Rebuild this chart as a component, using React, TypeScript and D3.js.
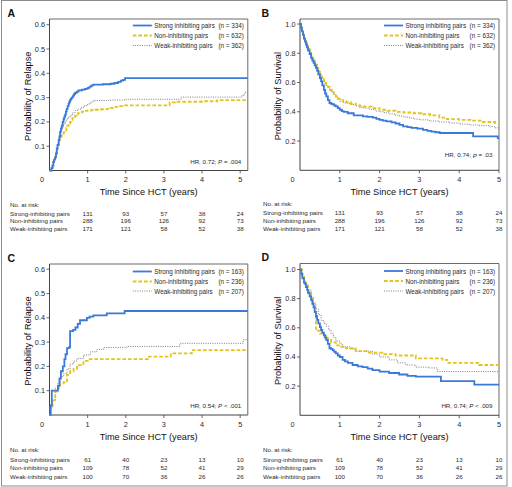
import React from "react";
import * as d3 from "d3";

// ---------- data ----------
const seriesNames = ["Strong inhibiting pairs", "Non-inhibiting pairs", "Weak-inhibiting pairs"];
const riskNames = ["Strong-inhibiting pairs", "Non-inhibiting pairs", "Weak-inhibiting pairs"];
const yearTicks = [0, 1, 2, 3, 4, 5];
const riskYears = [1, 2, 3, 4, 5];
const relapseTicks = [0.1, 0.2, 0.3, 0.4, 0.5, 0.6];
const survivalTicks = [0.2, 0.4, 0.6, 0.8, 1.0];

const nTop = [334, 632, 362];
const nBottom = [163, 236, 207];

const riskTop = [
  [131, 93, 57, 38, 24],
  [288, 196, 126, 92, 73],
  [171, 121, 58, 52, 38],
];
const riskBottom = [
  [61, 40, 23, 13, 10],
  [109, 78, 52, 41, 29],
  [100, 70, 36, 26, 26],
];

// Panel A: relapse (all pairs)
const aStrongT = [0, 0.05, 0.08, 0.1, 0.12, 0.15, 0.17, 0.19, 0.21, 0.24, 0.26, 0.28, 0.3, 0.32, 0.345, 0.37, 0.39, 0.41, 0.43, 0.45, 0.475, 0.5, 0.52, 0.54, 0.56, 0.58, 0.61, 0.63, 0.65, 0.67, 0.72, 0.76, 0.85, 0.93, 1.0, 1.05, 1.1, 1.15, 1.4, 1.6, 1.7, 1.8, 1.87, 1.93, 1.98, 5.2];
const aStrongV = [0, 0.01, 0.02, 0.035, 0.045, 0.055, 0.07, 0.09, 0.105, 0.125, 0.14, 0.16, 0.172, 0.185, 0.2, 0.213, 0.222, 0.23, 0.242, 0.254, 0.265, 0.275, 0.283, 0.29, 0.295, 0.3, 0.305, 0.31, 0.315, 0.32, 0.325, 0.33, 0.333, 0.336, 0.34, 0.345, 0.35, 0.353, 0.355, 0.357, 0.36, 0.365, 0.37, 0.373, 0.38, 0.38];
const aNonT = [0, 0.05, 0.08, 0.1, 0.12, 0.15, 0.17, 0.19, 0.21, 0.24, 0.26, 0.28, 0.31, 0.33, 0.37, 0.41, 0.44, 0.47, 0.5, 0.54, 0.57, 0.6, 0.64, 0.67, 0.71, 0.75, 0.8, 0.85, 0.92, 1.0, 1.1, 1.2, 1.35, 1.5, 1.6, 1.7, 1.85, 1.98, 3.15, 3.3, 4.0, 4.4, 5.2];
const aNonV = [0, 0.01, 0.02, 0.035, 0.045, 0.055, 0.07, 0.085, 0.1, 0.115, 0.127, 0.137, 0.145, 0.15, 0.158, 0.165, 0.175, 0.185, 0.193, 0.2, 0.208, 0.215, 0.22, 0.226, 0.231, 0.236, 0.239, 0.242, 0.245, 0.247, 0.249, 0.25, 0.252, 0.254, 0.258, 0.262, 0.265, 0.268, 0.28, 0.283, 0.285, 0.29, 0.29];
const aWeakT = [0, 0.05, 0.08, 0.1, 0.12, 0.15, 0.17, 0.19, 0.21, 0.24, 0.26, 0.28, 0.31, 0.34, 0.37, 0.41, 0.44, 0.47, 0.5, 0.54, 0.6, 0.67, 0.75, 0.84, 0.92, 1.0, 1.08, 1.15, 1.6, 1.98, 3.45, 5.05, 5.12, 5.2];
const aWeakV = [0, 0.01, 0.02, 0.035, 0.045, 0.055, 0.07, 0.09, 0.105, 0.12, 0.14, 0.16, 0.17, 0.18, 0.19, 0.2, 0.208, 0.215, 0.22, 0.226, 0.237, 0.247, 0.253, 0.26, 0.267, 0.274, 0.282, 0.288, 0.29, 0.293, 0.302, 0.31, 0.322, 0.322];

// Panel B: survival (all pairs)
const bStrongT = [0, 0.025, 0.05, 0.075, 0.1, 0.125, 0.15, 0.175, 0.2, 0.24, 0.28, 0.31, 0.34, 0.37, 0.4, 0.43, 0.46, 0.5, 0.53, 0.56, 0.6, 0.63, 0.66, 0.7, 0.74, 0.78, 0.82, 0.86, 0.9, 0.95, 1.0, 1.05, 1.1, 1.2, 1.35, 1.58, 1.7, 1.83, 1.92, 2.0, 2.08, 2.17, 2.3, 2.4, 2.5, 2.59, 2.7, 2.8, 2.95, 3.09, 3.2, 3.3, 3.4, 3.51, 4.35, 4.97, 5.0];
const bStrongV = [1, 0.975, 0.95, 0.925, 0.9, 0.88, 0.86, 0.84, 0.82, 0.795, 0.767, 0.75, 0.735, 0.717, 0.7, 0.68, 0.655, 0.63, 0.608, 0.58, 0.55, 0.525, 0.505, 0.48, 0.46, 0.455, 0.45, 0.443, 0.437, 0.425, 0.414, 0.405, 0.4, 0.39, 0.375, 0.369, 0.365, 0.36, 0.352, 0.345, 0.34, 0.335, 0.328, 0.32, 0.31, 0.3, 0.295, 0.29, 0.285, 0.277, 0.27, 0.265, 0.26, 0.255, 0.232, 0.22, 0.22];
const bNonT = [0, 0.025, 0.05, 0.075, 0.1, 0.125, 0.15, 0.175, 0.2, 0.24, 0.28, 0.31, 0.34, 0.37, 0.4, 0.43, 0.46, 0.5, 0.53, 0.56, 0.6, 0.63, 0.66, 0.7, 0.75, 0.8, 0.85, 0.9, 0.95, 1.0, 1.08, 1.16, 1.28, 1.4, 1.5, 1.6, 1.8, 2.0, 2.2, 2.4, 2.6, 2.85, 3.05, 3.27, 3.5, 3.69, 4.0, 4.28, 4.6, 4.9, 5.0];
const bNonV = [1, 0.975, 0.95, 0.925, 0.9, 0.885, 0.87, 0.85, 0.83, 0.805, 0.78, 0.765, 0.75, 0.735, 0.72, 0.7, 0.68, 0.66, 0.642, 0.625, 0.61, 0.597, 0.585, 0.57, 0.55, 0.535, 0.52, 0.505, 0.49, 0.48, 0.472, 0.465, 0.455, 0.445, 0.44, 0.435, 0.425, 0.414, 0.407, 0.4, 0.395, 0.39, 0.383, 0.375, 0.36, 0.35, 0.345, 0.34, 0.33, 0.325, 0.325];
const bWeakT = [0, 0.025, 0.05, 0.075, 0.1, 0.125, 0.15, 0.175, 0.2, 0.24, 0.28, 0.31, 0.34, 0.37, 0.4, 0.43, 0.46, 0.5, 0.53, 0.56, 0.6, 0.63, 0.66, 0.7, 0.75, 0.8, 0.85, 0.9, 0.95, 1.0, 1.1, 1.25, 1.4, 1.5, 1.6, 1.75, 1.9, 2.0, 2.12, 2.25, 2.38, 2.5, 2.62, 2.75, 2.88, 3.0, 3.25, 3.5, 3.75, 4.0, 4.25, 4.5, 4.75, 4.9, 5.0];
const bWeakV = [1, 0.975, 0.95, 0.925, 0.9, 0.885, 0.87, 0.85, 0.83, 0.805, 0.78, 0.765, 0.75, 0.735, 0.72, 0.7, 0.68, 0.66, 0.64, 0.622, 0.605, 0.592, 0.58, 0.565, 0.545, 0.53, 0.515, 0.5, 0.485, 0.47, 0.46, 0.45, 0.44, 0.43, 0.425, 0.415, 0.405, 0.4, 0.392, 0.385, 0.377, 0.37, 0.363, 0.357, 0.35, 0.345, 0.337, 0.33, 0.323, 0.316, 0.31, 0.305, 0.298, 0.29, 0.29];

// Panel C: relapse (subgroup)
const cStrongT = [0, 0.03, 0.06, 0.22, 0.26, 0.3, 0.35, 0.39, 0.42, 0.46, 0.52, 0.54, 0.62, 0.68, 0.74, 0.8, 0.98, 1.05, 1.15, 1.5, 1.97, 5.2];
const cStrongV = [0, 0.04, 0.1, 0.12, 0.15, 0.18, 0.2, 0.23, 0.25, 0.275, 0.28, 0.345, 0.35, 0.36, 0.375, 0.39, 0.4, 0.405, 0.41, 0.418, 0.428, 0.428];
const cNonT = [0, 0.03, 0.08, 0.15, 0.22, 0.28, 0.37, 0.46, 0.54, 0.63, 0.72, 0.89, 1.0, 2.58, 3.18, 3.73, 5.2];
const cNonV = [0, 0.03, 0.06, 0.096, 0.11, 0.13, 0.135, 0.165, 0.18, 0.19, 0.205, 0.223, 0.23, 0.24, 0.254, 0.267, 0.267];
const cWeakT = [0, 0.03, 0.08, 0.15, 0.22, 0.28, 0.37, 0.46, 0.54, 0.63, 0.72, 0.89, 1.07, 1.24, 1.42, 2.03, 3.42, 5.08, 5.2];
const cWeakV = [0, 0.03, 0.06, 0.11, 0.13, 0.158, 0.17, 0.19, 0.21, 0.222, 0.233, 0.247, 0.26, 0.27, 0.278, 0.282, 0.295, 0.31, 0.31];

// Panel D: survival (subgroup)
const dStrongT = [0, 0.03, 0.06, 0.1, 0.13, 0.15, 0.18, 0.2, 0.24, 0.28, 0.31, 0.34, 0.37, 0.4, 0.43, 0.46, 0.5, 0.53, 0.56, 0.6, 0.63, 0.66, 0.7, 0.74, 0.78, 0.82, 0.86, 0.9, 0.95, 1.0, 1.07, 1.13, 1.2, 1.32, 1.45, 1.57, 1.7, 1.82, 2.0, 2.24, 2.49, 2.7, 2.91, 3.54, 4.38, 5.0];
const dStrongV = [1, 0.97, 0.94, 0.91, 0.9, 0.88, 0.86, 0.84, 0.815, 0.79, 0.765, 0.74, 0.71, 0.68, 0.655, 0.63, 0.605, 0.585, 0.567, 0.55, 0.532, 0.516, 0.49, 0.46, 0.455, 0.445, 0.435, 0.425, 0.41, 0.4, 0.38, 0.37, 0.36, 0.345, 0.335, 0.33, 0.32, 0.31, 0.3, 0.29, 0.28, 0.27, 0.265, 0.235, 0.21, 0.21];
const dNonT = [0, 0.05, 0.1, 0.15, 0.2, 0.28, 0.33, 0.37, 0.4, 0.5, 0.6, 0.7, 0.78, 0.9, 1.0, 1.15, 1.4, 1.73, 2.07, 2.4, 2.91, 3.58, 3.7, 4.5, 5.0];
const dNonV = [1, 0.95, 0.91, 0.89, 0.85, 0.8, 0.75, 0.71, 0.58, 0.56, 0.545, 0.52, 0.5, 0.48, 0.47, 0.46, 0.44, 0.43, 0.42, 0.41, 0.39, 0.38, 0.36, 0.345, 0.345];
const dWeakT = [0, 0.05, 0.1, 0.15, 0.2, 0.28, 0.34, 0.4, 0.46, 0.53, 0.6, 0.66, 0.72, 0.78, 0.84, 0.9, 1.0, 1.07, 1.25, 1.4, 1.82, 2.0, 2.24, 2.45, 2.66, 2.91, 3.25, 3.45, 5.0];
const dWeakV = [1, 0.95, 0.92, 0.9, 0.86, 0.81, 0.77, 0.73, 0.69, 0.65, 0.63, 0.61, 0.585, 0.56, 0.535, 0.51, 0.49, 0.47, 0.455, 0.44, 0.42, 0.4, 0.38, 0.36, 0.345, 0.33, 0.325, 0.3, 0.3];

const hrTexts = [
  ["HR, 0.72; ", "P", " = .004"],
  ["HR, 0.74; ", "P", " = .03"],
  ["HR, 0.54; ", "P", " < .001"],
  ["HR, 0.74; ", "P", " < .009"],
];

// ---------- styles ----------
const COLORS = ["#3b79d8", "#e2c41c", "#707070"];
const WIDTHS = [1.8, 1.8, 0.9];
const DASHES = ["none", "3.6,2", "1,1.3"];
const FONT = "'Liberation Sans', Arial, Helvetica, sans-serif";
const TEXT = "#2a2a2a";

type PanelCfg = {
  letter: string;
  x0: number; x1: number; xMax: number;
  yBottom: number; yTopTick: number; topVal: number; frameTop: number;
  yTicks: number[];
  yTitle: string; yTitleX: number;
  series: [number[], number[]][];
  ns: number[];
  risk: number[][];
  hr: string[];
  hrDy: number;
  tickLabelDy: number; titleDy: number; noRiskDy: number; riskDy0: number; riskGap: number;
  legendDy: number[];
  labelX: number; letterX: number;
};

const panels: PanelCfg[] = [
  {
    letter: "A", x0: 49.5, x1: 247.8, xMax: 5.2,
    yBottom: 170.5, yTopTick: 24.7, topVal: 0.6, frameTop: 19,
    yTicks: relapseTicks,
    yTitle: "Probability of Relapse", yTitleX: 28,
    series: [[aStrongT, aStrongV], [aNonT, aNonV], [aWeakT, aWeakV]],
    ns: nTop, risk: riskTop, hr: hrTexts[0], hrDy: -9.5,
    tickLabelDy: 8.7, titleDy: 21.5, noRiskDy: 33.5, riskDy0: 42.5, riskGap: 7.6,
    legendDy: [6.5, 16.5, 26.5], labelX: 10, letterX: 7.5,
  },
  {
    letter: "B", x0: 300, x1: 499, xMax: 5,
    yBottom: 170.3, yTopTick: 24, topVal: 1.0, frameTop: 19,
    yTicks: survivalTicks,
    yTitle: "Probability of Survival", yTitleX: 278,
    series: [[bStrongT, bStrongV], [bNonT, bNonV], [bWeakT, bWeakV]],
    ns: nTop, risk: riskTop, hr: hrTexts[1], hrDy: -15.5,
    tickLabelDy: 8.7, titleDy: 21.5, noRiskDy: 33.5, riskDy0: 42.5, riskGap: 7.6,
    legendDy: [6.5, 16.5, 26.5], labelX: 263, letterX: 261.5,
  },
  {
    letter: "C", x0: 49.5, x1: 247.8, xMax: 5.2,
    yBottom: 415, yTopTick: 269.2, topVal: 0.6, frameTop: 264,
    yTicks: relapseTicks,
    yTitle: "Probability of Relapse", yTitleX: 28,
    series: [[cStrongT, cStrongV], [cNonT, cNonV], [cWeakT, cWeakV]],
    ns: nBottom, risk: riskBottom, hr: hrTexts[2], hrDy: -10,
    tickLabelDy: 9, titleDy: 21.5, noRiskDy: 34, riskDy0: 44, riskGap: 8.5,
    legendDy: [7.5, 17.5, 27], labelX: 10, letterX: 7.5,
  },
  {
    letter: "D", x0: 300, x1: 499, xMax: 5,
    yBottom: 415.3, yTopTick: 269.5, topVal: 1.0, frameTop: 263.5,
    yTicks: survivalTicks,
    yTitle: "Probability of Survival", yTitleX: 278,
    series: [[dStrongT, dStrongV], [dNonT, dNonV], [dWeakT, dWeakV]],
    ns: nBottom, risk: riskBottom, hr: hrTexts[3], hrDy: -10,
    tickLabelDy: 9, titleDy: 21.5, noRiskDy: 34, riskDy0: 44, riskGap: 8.5,
    legendDy: [7.5, 17.5, 27.5], labelX: 263, letterX: 261.5,
  },
];

const fmt = d3.format(".1f");

function Panel({ p }: { p: PanelCfg }) {
  const x = d3.scaleLinear().domain([0, p.xMax]).range([p.x0, p.x1]);
  const y = d3.scaleLinear().domain([0, p.topVal]).range([p.yBottom, p.yTopTick]);
  const line = d3
    .line<[number, number]>()
    .x((d) => x(d[0]))
    .y((d) => y(d[1]))
    .curve(d3.curveStepAfter);

  const letterY = p.frameTop - 2.5;
  const midX = (p.x0 + p.x1) / 2;
  const midY = (p.frameTop + p.yBottom) / 2 + 1.5;
  const legX = p.x1 - 115;

  return (
    <g>
      <text x={p.letterX} y={letterY} fontSize={10.5} fontWeight="bold" fill="#111" fontFamily={FONT}>
        {p.letter}
      </text>

      {/* frame */}
      <path d={`M${p.x0},${p.frameTop}H${p.x1}V${p.yBottom}`} fill="none" stroke="#6a6a6a" strokeWidth={1} />
      <path d={`M${p.x0},${p.frameTop}V${p.yBottom}H${p.x1}`} fill="none" stroke="#444" strokeWidth={1} />

      {/* y ticks */}
      {p.yTicks.map((v) => (
        <g key={"y" + v}>
          <line x1={p.x0 - 3} x2={p.x0} y1={y(v)} y2={y(v)} stroke="#444" strokeWidth={0.8} />
          <text x={p.x0 - 4.5} y={y(v)} dominantBaseline="central" textAnchor="end" fontSize={7.3} fill={TEXT} fontFamily={FONT}>
            {fmt(v)}
          </text>
        </g>
      ))}

      {/* x ticks */}
      {yearTicks.map((t) => (
        <g key={"x" + t}>
          {t > 0 && <line x1={x(t)} x2={x(t)} y1={p.yBottom} y2={p.yBottom + 3} stroke="#444" strokeWidth={0.8} />}
          <text
            x={t === 0 ? x(t) - 7.5 : x(t)}
            y={p.yBottom + p.tickLabelDy}
            dominantBaseline="central"
            textAnchor="middle"
            fontSize={7.3}
            fill={TEXT}
            fontFamily={FONT}
          >
            {t}
          </text>
        </g>
      ))}

      {/* axis titles */}
      <text x={midX} y={p.yBottom + p.titleDy} dominantBaseline="central" textAnchor="middle" fontSize={9.2} fill="#111" fontFamily={FONT}>
        Time Since HCT (years)
      </text>
      <text
        transform={`translate(${p.yTitleX},${midY}) rotate(-90)`}
        dominantBaseline="central"
        textAnchor="middle"
        fontSize={9.2}
        fill="#111"
        fontFamily={FONT}
      >
        {p.yTitle}
      </text>

      {/* curves */}
      {p.series
        .map(([ts, vs], i) => {
          const pts: [number, number][] = ts.map((t, k) => [t, vs[k]]);
          return (
            <path
              key={"s" + i}
              d={line(pts) || ""}
              fill="none"
              stroke={COLORS[i]}
              strokeWidth={WIDTHS[i]}
              strokeDasharray={DASHES[i]}
            />
          );
        })
        .reverse()}

      {/* legend */}
      {seriesNames.map((name, i) => {
        const ly = p.frameTop + p.legendDy[i];
        return (
          <g key={"l" + i}>
            <line x1={legX} x2={legX + 19} y1={ly} y2={ly} stroke={COLORS[i]} strokeWidth={WIDTHS[i]} strokeDasharray={DASHES[i]} />
            <text x={legX + 21.5} y={ly} dominantBaseline="central" fontSize={6.3} fill={TEXT} fontFamily={FONT}>
              {name}
            </text>
            <text x={p.x1 - 4} y={ly} dominantBaseline="central" textAnchor="end" fontSize={6.3} fill={TEXT} fontFamily={FONT}>
              {`(n = ${p.ns[i]})`}
            </text>
          </g>
        );
      })}

      {/* HR */}
      <text x={p.x1 - 6.5} y={p.yBottom + p.hrDy} dominantBaseline="central" textAnchor="end" fontSize={6.2} fill={TEXT} fontFamily={FONT}>
        {p.hr[0]}
        <tspan fontStyle="italic">{p.hr[1]}</tspan>
        {p.hr[2]}
      </text>

      {/* risk table */}
      <text x={p.labelX} y={p.yBottom + p.noRiskDy} dominantBaseline="central" fontSize={6.2} fill={TEXT} fontFamily={FONT}>
        No. at risk:
      </text>
      {riskNames.map((name, i) => {
        const ry = p.yBottom + p.riskDy0 + i * p.riskGap;
        return (
          <g key={"r" + i}>
            <text x={p.labelX} y={ry} dominantBaseline="central" fontSize={6.2} fill={TEXT} fontFamily={FONT}>
              {name}
            </text>
            {riskYears.map((t, k) => (
              <text key={k} x={x(t)} y={ry} dominantBaseline="central" textAnchor="middle" fontSize={6.2} fill={TEXT} fontFamily={FONT}>
                {p.risk[i][k]}
              </text>
            ))}
          </g>
        );
      })}
    </g>
  );
}

export default function App() {
  return (
    <svg width={512} height={487} viewBox="0 0 512 487" style={{ position: "absolute", left: 0, top: 0, background: "#fff" }}>
      <rect x={0} y={0} width={512} height={487} fill="#fff" />
      <rect x={1.5} y={0.5} width={505.5} height={485.5} fill="none" stroke="#8c8c8c" strokeWidth={1} />
      {panels.map((p) => (
        <Panel key={p.letter} p={p} />
      ))}
    </svg>
  );
}
